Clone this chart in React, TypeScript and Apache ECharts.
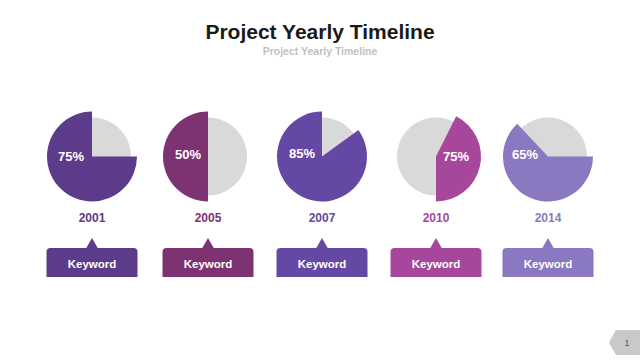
import React, { useEffect, useRef } from "react";
import * as echarts from "echarts";

// ---- data ----
const years = ["2001", "2005", "2007", "2010", "2014"];
const percentLabels = ["75%", "50%", "85%", "75%", "65%"];
// share of each colored slice (percent of full circle), and the gray gap before it (clockwise from 12 o'clock)
const leadGap = [25, 50, 15, 7.4, 25];
const shares = [75, 50, 85, 42.6, 63];
const keywords = ["Keyword", "Keyword", "Keyword", "Keyword", "Keyword"];
const colors = ["#5c3b8a", "#7d3372", "#6548a3", "#a6479c", "#8a79c1"];

// ---- layout ----
const centersX = [92, 208, 322, 436, 548];
const centerY = 156.5;
const labelOffsets = [
  [-21, 0],
  [-20, -2],
  [-20, -3],
  [20, 0],
  [-23, -2],
];

export default function App() {
  const ref = useRef<HTMLDivElement>(null);

  useEffect(() => {
    if (!ref.current) return;
    const chart = echarts.init(ref.current, undefined, { renderer: "svg" });

    const series: any[] = [];
    years.forEach((y, i) => {
      series.push({
        type: "pie",
        silent: true,
        center: [centersX[i], centerY],
        radius: [0, 39],
        label: { show: false },
        labelLine: { show: false },
        itemStyle: { borderWidth: 0 },
        data: [{ value: 100, name: "bg" + i, itemStyle: { color: "#d9d9d9" } }],
      });
      const rest = Math.max(0, 100 - leadGap[i] - shares[i]);
      series.push({
        type: "pie",
        silent: true,
        center: [centersX[i], centerY],
        radius: [0, 45],
        startAngle: 90,
        clockwise: true,
        label: { show: false },
        labelLine: { show: false },
        itemStyle: { borderWidth: 0 },
        data: [
          { value: leadGap[i], name: "g1_" + i, itemStyle: { color: "rgba(0,0,0,0)" } },
          { value: shares[i], name: y, itemStyle: { color: colors[i] } },
          { value: rest, name: "g2_" + i, itemStyle: { color: "rgba(0,0,0,0)" } },
        ],
      });
    });

    const graphic: any[] = [
      {
        type: "text",
        x: 320,
        y: 31,
        style: {
          text: "Project Yearly Timeline",
          fill: "#1a1a1a",
          font: "bold 21px 'Liberation Sans', Arial, sans-serif",
          textAlign: "center",
          textVerticalAlign: "middle",
        },
      },
      {
        type: "text",
        x: 320,
        y: 51,
        style: {
          text: "Project Yearly Timeline",
          fill: "#bfbfbf",
          font: "bold 10.5px 'Liberation Sans', Arial, sans-serif",
          textAlign: "center",
          textVerticalAlign: "middle",
        },
      },
      {
        type: "polygon",
        shape: {
          points: [
            [640, 330],
            [616, 330],
            [609, 342.5],
            [616, 355],
            [640, 355],
          ],
        },
        style: { fill: "#c9c9c9" },
      },
      {
        type: "text",
        x: 627,
        y: 342.5,
        style: {
          text: "1",
          fill: "#555555",
          font: "9px 'Liberation Sans', Arial, sans-serif",
          textAlign: "center",
          textVerticalAlign: "middle",
        },
      },
    ];

    years.forEach((y, i) => {
      const cx = centersX[i];
      graphic.push({
        type: "text",
        x: cx + labelOffsets[i][0],
        y: centerY + labelOffsets[i][1],
        z: 10,
        style: {
          text: percentLabels[i],
          fill: "#ffffff",
          font: "bold 13px 'Liberation Sans', Arial, sans-serif",
          textAlign: "center",
          textVerticalAlign: "middle",
        },
      });
      graphic.push({
        type: "text",
        x: cx,
        y: 218,
        style: {
          text: y,
          fill: colors[i],
          font: "bold 12px 'Liberation Sans', Arial, sans-serif",
          textAlign: "center",
          textVerticalAlign: "middle",
        },
      });
      graphic.push({
        type: "polygon",
        shape: {
          points: [
            [cx - 6, 248.5],
            [cx, 238],
            [cx + 6, 248.5],
          ],
        },
        style: { fill: colors[i] },
      });
      graphic.push({
        type: "rect",
        shape: { x: cx - 45.5, y: 248, width: 91, height: 29, r: [4, 4, 0, 0] },
        style: { fill: colors[i] },
      });
      graphic.push({
        type: "text",
        x: cx,
        y: 263.5,
        z: 10,
        style: {
          text: keywords[i],
          fill: "#ffffff",
          font: "bold 11.5px 'Liberation Sans', Arial, sans-serif",
          textAlign: "center",
          textVerticalAlign: "middle",
        },
      });
    });

    chart.setOption({
      animation: false,
      backgroundColor: "#ffffff",
      series,
      graphic,
    });

    return () => chart.dispose();
  }, []);

  return (
    <div
      ref={ref}
      style={{ position: "fixed", left: 0, top: 0, width: 640, height: 360 }}
    />
  );
}
